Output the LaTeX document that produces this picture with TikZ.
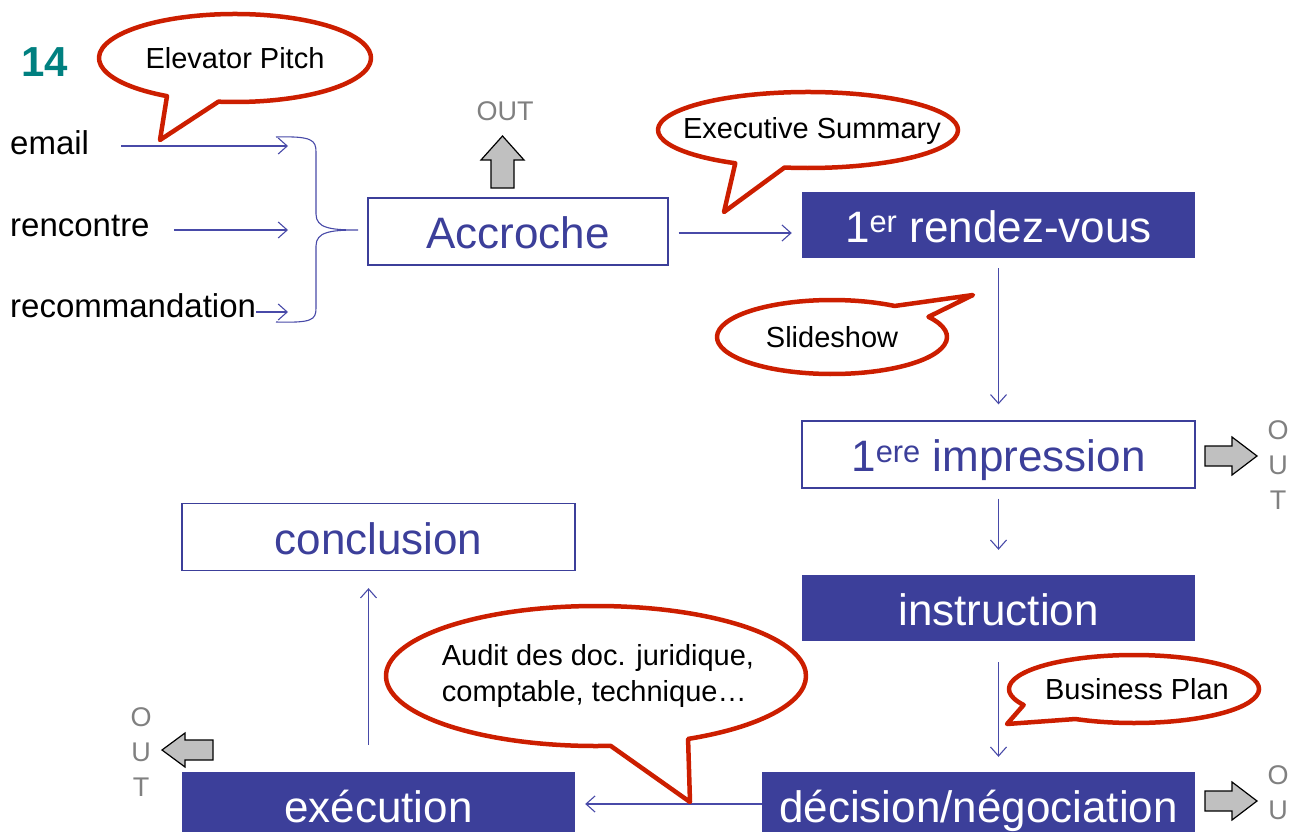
\documentclass[tikz,border=0pt]{standalone}
\usepackage{fontspec}
\setmainfont{Liberation Sans}
\usetikzlibrary{arrows.meta,calc}
\definecolor{boxblue}{RGB}{60,63,154}
\definecolor{lineblue}{RGB}{72,74,168}
\definecolor{calred}{RGB}{204,30,0}
\definecolor{outgray}{RGB}{128,128,128}
\definecolor{arrgray}{RGB}{192,192,192}
\definecolor{tealnum}{RGB}{0,128,128}
\tikzset{
 boxtext/.style={font=\fontsize{44}{50}\selectfont, text height=43pt, text depth=9pt, inner sep=0pt},
 filledbox/.style={boxtext, fill=boxblue, draw=none, text=white, minimum height=66pt},
 openbox/.style={boxtext, fill=white, draw=boxblue, line width=1.3pt, text=boxblue, minimum height=67pt},
 conn/.style={draw=lineblue, line width=1.1pt, -{Straight Barb[length=9pt,width=16pt,line width=1.1pt]}},
 bubble/.style={draw=calred, line width=4.5pt, fill=white, line join=round},
 bubbletext/.style={font=\fontsize{29}{33}\selectfont, text=black, inner sep=0pt},
 srctext/.style={font=\fontsize{33}{38}\selectfont, text=black, inner sep=0pt, anchor=base west},
 outtext/.style={font=\fontsize{27}{35}\selectfont, text=outgray, inner sep=0pt, align=center},
 blockarrow/.style={fill=arrgray, draw=black, line width=1.2pt, line join=miter},
}
\begin{document}
\begin{tikzpicture}[x=1pt,y=-1pt]
\useasboundingbox (0,0) rectangle (1296,832);

% page number
\node[font=\fontsize{42}{46}\selectfont\bfseries, text=tealnum, inner sep=0pt] (num) at (45,62) {14};

% sources
\node[srctext] (email) at (10,154) {email};
\node[srctext] (renc) at (10,236) {rencontre};
\node[srctext] (reco) at (10,317) {recommandation};
\coordinate (in1) at (288,146);
\coordinate (in2) at (288,230);
\coordinate (in3) at (288,312);
\draw[conn] ($(in1 -| email.east)+(32,0)$) -- (in1);
\draw[conn] ($(in2 -| renc.east)+(24,0)$) -- (in2);
\draw[conn] (in3 -| reco.east) -- (in3);

% brace
\draw[lineblue, line width=1.1pt] (276,137) .. controls (312,136) and (316,140) .. (316,152) -- (316,214) .. controls (316,228) and (330,230) .. (358,230) .. controls (330,230) and (316,232) .. (316,246) -- (316,308) .. controls (316,320) and (312,323) .. (276,322);

% main boxes
\node[openbox, minimum width=300pt] (acc) at (518,231.5) {Accroche};
\node[filledbox, minimum width=393pt] (rdv) at (998.5,225) {1\textsuperscript{er} rendez-vous};
\node[openbox, minimum width=393pt] (imp) at (998.5,454.5) {1\textsuperscript{ere} impression};
\node[filledbox, minimum width=393pt] (ins) at (998.5,608) {instruction};
\node[filledbox, minimum width=433pt] (dec) at (978.5,805) {décision/négociation};
\node[filledbox, minimum width=393pt] (exe) at (378.5,805) {exécution};
\node[openbox, minimum width=393pt] (conc) at (378.5,537) {conclusion};

% connectors
\draw[conn, shorten <=10pt, shorten >=10pt] ([yshift=-1.5pt]acc.east) -- ([yshift=-1.5pt]acc.east -| rdv.west);
\draw[conn, shorten <=10pt, shorten >=16pt] (rdv.south) -- (imp.north);
\draw[conn, shorten <=10pt, shorten >=25pt] (imp.south) -- (ins.north);
\draw[conn, shorten <=21pt, shorten >=15pt] (ins.south) -- (ins.south |- dec.north);
\draw[conn, shorten >=10pt] ([yshift=1pt]dec.west) -- ([yshift=1pt]exe.east);
\draw[conn, shorten <=27pt, shorten >=17pt] ([xshift=-10pt]exe.north) -- ([xshift=-10pt]conc.south);

% OUT arrows
\draw[blockarrow] (491,188) -- (491,160) -- (481,160) -- (502.5,136) -- (524,160) -- (514,160) -- (514,188) -- cycle;
\node[outtext] (out1) at (505,111) {OUT};

\draw[blockarrow] (1205,446) -- (1232,446) -- (1232,437) -- (1257,456) -- (1232,475) -- (1232,466) -- (1205,466) -- cycle;
\node[outtext] (out2) at (1278,465) {O\\U\\T};

\draw[blockarrow] (1205,791) -- (1232,791) -- (1232,782) -- (1257,801) -- (1232,820) -- (1232,811) -- (1205,811) -- cycle;
\node[outtext, anchor=north] (out3) at (1278,765) {O\\U};

\draw[blockarrow] (213,740) -- (185,740) -- (185,733) -- (162,750) -- (185,767) -- (185,760) -- (213,760) -- cycle;
\node[outtext] (out4) at (141,752) {O\\U\\T};

% callouts
\draw[bubble] (235,58) ++(120:136 and 44) arc[start angle=120, end angle=457, x radius=136, y radius=44] -- (160,140) -- cycle;
\node[bubbletext] (pitch) at (235,58) {Elevator Pitch};

\draw[bubble] (808,130) ++(119:150 and 38) arc[start angle=119, end angle=459, x radius=150, y radius=38] -- (724,212) -- cycle;
\node[bubbletext] (exec) at (812,131) {Executive Summary};

\draw[bubble] (832,337) ++(-33:115 and 37) arc[start angle=-33, end angle=303, x radius=115, y radius=37] -- (973,295) -- cycle;
\node[bubbletext] (slide) at (832,337) {Slideshow};

\draw[bubble] (1134,689) ++(152:125 and 34) arc[start angle=152, end angle=478, x radius=125, y radius=34] -- (1007,724) -- cycle;
\node[bubbletext] (bp) at (1137,689) {Business Plan};

\draw[bubble] (596,676) ++(86:210 and 70) arc[start angle=86, end angle=424, x radius=210, y radius=70] -- (690,802) -- cycle;
\node[bubbletext, align=left, font=\fontsize{29}{36}\selectfont] (audit) at (598,676) {Audit des doc. juridique,\\comptable, technique…};
\end{tikzpicture}
\end{document}
